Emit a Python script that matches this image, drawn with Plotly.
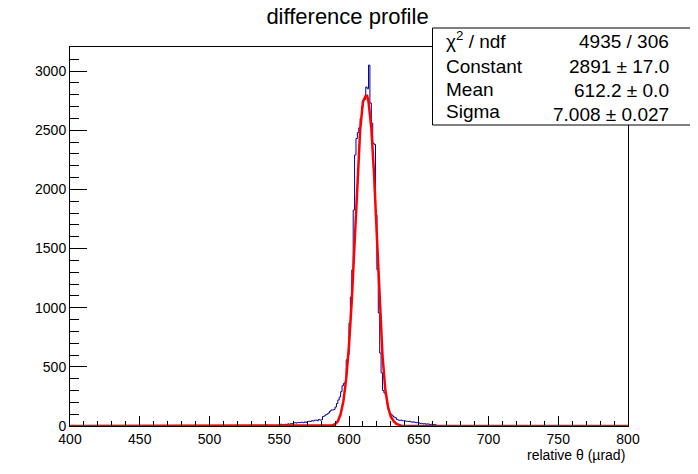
import plotly.graph_objects as go

# histogram range and bin width (relative theta, urad)
hist_lo = 400
hist_hi = 800

# filled bins (lower edge) and their counts
bin_edges = [540, 541,
             550, 551, 552, 553, 554, 555, 556, 557, 558, 559,
             560, 561, 562, 563, 564, 565, 566, 567, 568, 569,
             570, 571, 572, 573, 574, 575, 576, 577, 578, 579,
             580, 581, 582, 583, 584, 585, 586, 587, 588, 589,
             590, 591, 592, 593, 594, 595, 596, 597, 598, 599,
             600, 601, 602, 603, 604, 605, 606, 607, 608, 609,
             610, 611, 612, 613, 614, 615, 616, 617, 618, 619,
             620, 621, 622, 623, 624, 625, 626, 627, 628, 629,
             630, 631, 632, 633, 634, 635, 636, 637, 638, 639,
             640, 641, 642, 643, 644, 645, 646, 647, 648, 649,
             650, 651, 652, 653, 654, 655, 656, 657, 658, 659,
             660, 661, 662]
bin_counts = [8, 8,
              12, 15, 10, 8, 15, 12, 18, 15, 20, 18,
              25, 28, 25, 30, 28, 30, 32, 28, 35, 30,
              38, 40, 38, 45, 42, 48, 50, 45, 55, 50,
              52, 80, 85, 95, 100, 110, 125, 135, 135, 140,
              160, 190, 220, 245, 290, 340, 360, 370, 560, 600,
              870, 1090, 1320, 1825, 2290, 2430, 2480, 2520, 2600, 2700,
              2755, 2760, 2865, 2850, 3050, 2730, 2560, 2390, 2380, 1785,
              1320, 955, 617, 450, 300, 280, 260, 190, 135, 110,
              95, 85, 75, 70, 55, 50, 48, 50, 45, 45,
              42, 40, 38, 40, 35, 32, 35, 30, 28, 30,
              25, 22, 20, 18, 20, 15, 18, 15, 12, 15,
              10, 12, 8]

# gaussian fit curve, sampled from the red line
fit_x = [400, 586, 588, 590, 592, 594, 596, 598, 600, 602, 604, 606, 608,
         610, 612, 613, 614, 616, 618, 620, 622, 624, 626, 628, 630, 632,
         634, 636, 638, 800]
fit_y = [0, 0, 5, 15, 40, 100, 210, 400, 680, 1060, 1560, 2080, 2500,
         2740, 2790, 2790, 2740, 2520, 2120, 1600, 1050, 600, 310, 160, 78, 40,
         18, 6, 0, 0]

stats_labels = ["χ<sup>2</sup> / ndf", "Constant", "Mean", "Sigma"]
stats_values = ["4935 / 306", "2891 ± 17.0", "612.2 ± 0.0", "7.008 ± 0.027"]

# full histogram incl. empty bins, drawn as steps
counts = dict(zip(bin_edges, bin_counts))
hx = list(range(hist_lo, hist_hi + 1))
hy = [counts.get(e, 0) for e in range(hist_lo, hist_hi)]
hy.append(hy[-1])

FONT = "Liberation Sans, Arial, Helvetica, sans-serif"

fig = go.Figure()
fig.add_trace(go.Scatter(x=hx, y=hy, mode="lines", line_shape="hv",
                         line=dict(color="#000099", width=1), hoverinfo="skip"))
fig.add_trace(go.Scatter(x=fit_x, y=fit_y, mode="lines",
                         line=dict(color="#ff0000", width=2.5), hoverinfo="skip"))

# the page body adds an 8px margin, so lay out in page pixels minus 8
OFF = 8
W, H = 698 - OFF, 474 - OFF
L, R, T, B = 70, 628, 47, 426


def px(x):
    return (x - L) / (R - L)


def py(y):
    return (B - y) / (B - T)


fig.update_layout(
    width=W, height=H,
    margin=dict(l=L - OFF, r=698 - R, t=T - OFF, b=474 - B, pad=0),
    paper_bgcolor="white", plot_bgcolor="white",
    showlegend=False,
    font=dict(family=FONT, color="black", size=14),
    title=dict(text="difference profile", x=(347.5 - OFF) / W, xanchor="center",
               y=1 - 1 / H, yanchor="top", pad=dict(t=0, b=0),
               font=dict(family=FONT, size=22, color="black")),
    xaxis=dict(range=[hist_lo, hist_hi], showgrid=False, zeroline=False,
               showline=True, linecolor="black", linewidth=1, mirror=True,
               ticks="inside", ticklen=10, tickcolor="black", dtick=50, tick0=400,
               minor=dict(ticks="inside", ticklen=5, dtick=10, tickcolor="black"),
               tickfont=dict(size=14)),
    yaxis=dict(range=[0, 3203], showgrid=False, zeroline=False,
               showline=True, linecolor="black", linewidth=1, mirror=True,
               ticks="inside", ticklen=17, tickcolor="black", dtick=500, tick0=0,
               minor=dict(ticks="inside", ticklen=9, dtick=100, tickcolor="black"),
               tickfont=dict(size=14)),
)

# x-axis title, right aligned under the axis
fig.add_annotation(text="relative θ (µrad)", xref="paper", yref="paper",
                   x=px(627), y=py(455), xanchor="right", yanchor="middle",
                   showarrow=False, font=dict(size=14))

# stats box
fig.add_shape(type="rect", xref="paper", yref="paper",
              x0=px(432.5), x1=px(697), y0=py(125), y1=py(28),
              line=dict(color="black", width=1), fillcolor="white", layer="above")
label_y = [40, 66, 89, 111]
value_y = [42, 67, 91, 114]
for lab, val, ly, vy in zip(stats_labels, stats_values, label_y, value_y):
    fig.add_annotation(text=lab, xref="paper", yref="paper", x=px(444), y=py(ly),
                       xanchor="left", yanchor="middle", showarrow=False,
                       font=dict(size=19))
    fig.add_annotation(text=val, xref="paper", yref="paper", x=px(671), y=py(vy),
                       xanchor="right", yanchor="middle", showarrow=False,
                       font=dict(size=19))

fig.write_html("out.html")
